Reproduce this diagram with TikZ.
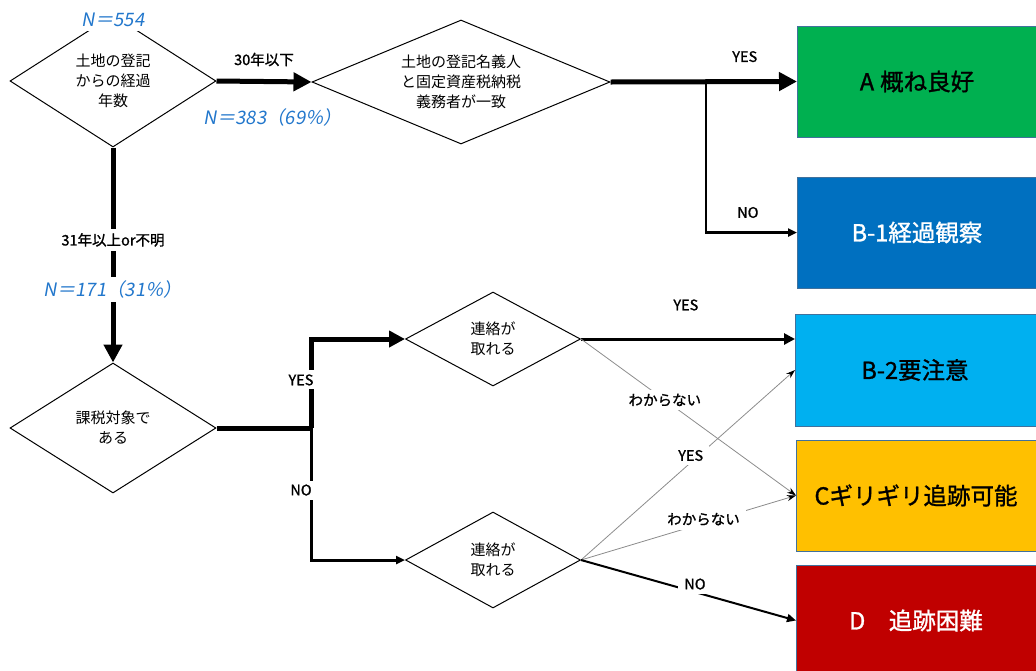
\documentclass[tikz,border=0pt]{standalone}
\usepackage{fontspec}
\setmainfont{Noto Sans CJK JP}
\newfontfamily\jpb[FakeBold=1.2]{Noto Sans CJK JP}
\newfontfamily\hand[FakeSlant=0.18]{Noto Sans CJK JP}
\usetikzlibrary{shapes.geometric,arrows.meta}
\definecolor{cA}{HTML}{00B050}
\definecolor{cB1}{HTML}{0070C0}
\definecolor{cB2}{HTML}{00B0F0}
\definecolor{cC}{HTML}{FFC000}
\definecolor{cD}{HTML}{C00000}
\definecolor{bord}{HTML}{41719C}
\definecolor{nblue}{HTML}{2277CC}
\definecolor{lgray}{HTML}{8C8C8C}
\tikzset{
  dia/.style={diamond, draw, line width=1pt, inner sep=0pt, align=center,
    font=\fontsize{15}{20}\selectfont},
  res/.style={draw=bord, line width=1pt, minimum width=243pt, anchor=west,
    font=\jpb\fontsize{23.5}{26}\selectfont},
  lab/.style={fill=white, inner xsep=6pt, inner ysep=4pt, font=\jpb\fontsize{14.5}{16}\selectfont},
  cnt/.style={fill=white, inner xsep=5pt, inner ysep=4pt, text=nblue, font=\hand\fontsize{18.5}{20}\selectfont},
  big/.style={line width=5pt, -{Triangle[length=18pt,width=18pt]}},
  mid/.style={line width=3pt, -{Triangle[length=11pt,width=11pt]}},
  thin/.style={line width=2pt, -{Triangle[length=9pt,width=8pt]}},
  faint/.style={line width=0.8pt, draw=lgray, -{Stealth[length=9pt,width=6pt,color=black]}},
}
\begin{document}
\begin{tikzpicture}[x=1pt,y=-1pt]
\useasboundingbox (0,0) rectangle (1036,670);

% decision diamonds
\node[dia, shape aspect=1.56, minimum width=206pt, minimum height=132pt] (d1) at (113,81) {土地の登記\\からの経過\\年数};
\node[dia, shape aspect=2.4, minimum width=298pt, minimum height=124pt] (d2) at (461,82) {土地の登記名義人\\と固定資産税納税\\義務者が一致};
\node[dia, shape aspect=1.56, minimum width=206pt, minimum height=130pt] (d3) at (113,428) {課税対象で\\ある};
\node[dia, shape aspect=1.86, minimum width=175pt, minimum height=94pt] (d4) at (493,339) {連絡が\\取れる};
\node[dia, shape aspect=1.86, minimum width=175pt, minimum height=96pt] (d5) at (493,560) {連絡が\\取れる};

% result boxes
\node[res, fill=cA, minimum height=111pt] (A) at (797,81.5) {\hspace*{-4pt}A\hspace{6pt}概ね良好};
\node[res, fill=cB1, text=white, minimum height=111pt] (B1) at (797,232.5) {\hspace*{-4pt}B-1経過観察};
\node[res, fill=cB2, minimum height=112pt] (B2) at (795,370) {\hspace*{-4pt}B-2要注意};
\node[res, fill=cC, minimum height=111pt] (C) at (796,495.5) {\hspace*{-4pt}Cギリギリ追跡可能};
\node[res, fill=cD, text=white, minimum height=111pt] (D) at (796,620.5) {\hspace*{-4pt}D　追跡困難};

% counts
\node[cnt] (n554) at (113,20) {N＝554};

% junctions
\coordinate (j1) at (706,82);
\coordinate (j2) at (311,428);

% connectors
\draw[big] (d1.east) -- (d2.west)
  node[lab, midway, yshift=22pt] (l30) {30年以下}
  node[cnt, midway, xshift=9pt, yshift=-36pt] (n383) {N＝383（69％）};
\draw[big] (d1.south) -- (d3.north)
  node[lab, pos=0.43] (l31) {31年以上or不明}
  node[cnt, pos=0.66] (n171) {N＝171（31％）};
\draw[big] (d2.east) -- (A.west)
  node[lab, pos=0.72, yshift=25pt] (ly1) {YES};
\draw[line width=2.5pt, -{Triangle[length=9pt,width=8pt]}] (j1) |- (B1.west)
  node[lab, pos=0.73, yshift=20pt] (ln1) {NO};

\draw[line width=5pt] (d3.east) -- (j2);
\draw[line width=5pt, -{Triangle[length=16pt,width=16pt]}] (j2) |- (d4.west)
  node[lab, pos=0.27, xshift=-10pt, inner xsep=9pt] (ly2) {YES};
\draw[thin, line width=3pt] (j2) |- (d5.west)
  node[lab, pos=0.235, xshift=-10pt, inner xsep=9pt] (ln2) {NO};

\draw[mid] (d4.east) -- (d4.east -| B2.west)
  node[lab, pos=0.49, yshift=34pt] (ly3) {YES};
\draw[faint] (d4.east) -- (C.west)
  node[lab, pos=0.39] (lw1) {わからない};
\draw[faint] (d5.east) -- (B2.west)
  node[lab, pos=0.55, xshift=-8pt] (ly4) {YES};
\draw[faint] (d5.east) -- (C.west)
  node[lab, pos=0.57, yshift=4pt] (lw2) {わからない};
\draw[thin] (d5.east) -- (D.west)
  node[lab, pos=0.53, yshift=8pt] (ln3) {NO};
\end{tikzpicture}
\end{document}
